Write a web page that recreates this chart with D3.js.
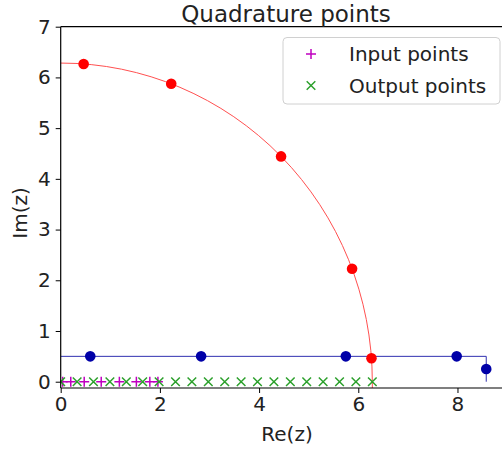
<!DOCTYPE html>
<html><head><meta charset="utf-8">
<script src="https://cdn.jsdelivr.net/npm/d3@7"></script>
<style>body{margin:0;background:#fff}svg{display:block}text{font-family:"DejaVu Sans",sans-serif;fill:#222}</style>
</head><body>
<svg id="c" width="502" height="450"></svg>
<script>
const title = "Quadrature points";
const xTicks = [0, 2, 4, 6, 8];
const yTicks = [0, 1, 2, 3, 4, 5, 6, 7];
const arcRadius = 6.283;
const redPts = [[0.4625, 6.266], [2.228, 5.875], [4.443, 4.443], [5.875, 2.228], [6.266, 0.4625]];
const contour = [[0, 0.5], [8.58, 0.5], [8.58, 0]];
const bluePts = [[0.596, 0.5], [2.831, 0.5], [5.749, 0.5], [7.984, 0.5], [8.58, 0.25]];
const inputX = [0.040, 0.203, 0.474, 0.817, 1.183, 1.526, 1.797, 1.960];
const outputX = [0, 0.331, 0.661, 0.992, 1.323, 1.653, 1.984, 2.315, 2.645, 2.976, 3.307, 3.638, 3.968, 4.299, 4.630, 4.960, 5.291, 5.622, 5.952, 6.283];
const legendItems = ["Input points", "Output points"];

const L = 60.7, R = 510.3, T = 26.7, B = 388;
const x = d3.scaleLinear().domain([0, 9.065]).range([L, R]);
const y = d3.scaleLinear().domain([-0.124, 7]).range([B, T]);
const svg = d3.select("#c");

svg.append("defs").append("clipPath").attr("id", "clip")
  .append("rect").attr("x", L).attr("y", T).attr("width", R - L).attr("height", B - T);
const g = svg.append("g").attr("clip-path", "url(#clip)");

// contour line
g.append("path").datum(contour)
  .attr("d", d3.line().x(d => x(d[0])).y(d => y(d[1])))
  .attr("fill", "none").attr("stroke", "#3030b0").attr("stroke-width", 1);
// arc
const rx = x(arcRadius) - x(0), ry = y(0) - y(arcRadius);
g.append("path")
  .attr("d", `M${x(arcRadius)},${y(0) + 8} L${x(arcRadius)},${y(0)} A${rx},${ry} 0 0 0 ${x(0)},${y(arcRadius)}`)
  .attr("fill", "none").attr("stroke", "#ff5050").attr("stroke-width", 1);
// blue points
g.selectAll(".bp").data(bluePts).join("circle")
  .attr("cx", d => x(d[0])).attr("cy", d => y(d[1])).attr("r", 5.3).attr("fill", "#0000a8");
// red points
g.selectAll(".rp").data(redPts).join("circle")
  .attr("cx", d => x(d[0])).attr("cy", d => y(d[1])).attr("r", 5.3).attr("fill", "#ff0000");

const s = 5;
function plus(sel, cx, cy, col) {
  sel.append("path").attr("d", `M${cx - s},${cy}H${cx + s}M${cx},${cy - s}V${cy + s}`)
    .attr("stroke", col).attr("stroke-width", 1.5).attr("fill", "none");
}
function cross(sel, cx, cy, col) {
  const k = 4.3;
  sel.append("path").attr("d", `M${cx - k},${cy - k}L${cx + k},${cy + k}M${cx - k},${cy + k}L${cx + k},${cy - k}`)
    .attr("stroke", col).attr("stroke-width", 1.5).attr("fill", "none");
}
const magenta = "#c000c0", green = "#2ca02c";
inputX.forEach(v => plus(g, x(v), y(0), magenta));
outputX.forEach(v => cross(g, x(v), y(0), green));

// spines
svg.append("line").attr("x1", L).attr("x2", 502).attr("y1", T).attr("y2", T).attr("stroke", "#000").attr("stroke-width", 1.2);
svg.append("line").attr("x1", L).attr("x2", 502).attr("y1", B).attr("y2", B).attr("stroke", "#000").attr("stroke-width", 1.2);
svg.append("line").attr("x1", L).attr("x2", L).attr("y1", T).attr("y2", B).attr("stroke", "#000").attr("stroke-width", 1.2);

// axes
const xa = svg.append("g").attr("transform", `translate(0,${B})`)
  .call(d3.axisBottom(x).tickValues(xTicks).tickSize(5).tickPadding(4).tickFormat(d3.format("d")));
const ya = svg.append("g").attr("transform", `translate(${L},0)`)
  .call(d3.axisLeft(y).tickValues(yTicks).tickSize(5).tickPadding(5).tickFormat(d3.format("d")));
[xa, ya].forEach(a => {
  a.select(".domain").remove();
  a.selectAll("line").attr("stroke", "#000").attr("stroke-width", 1);
  a.selectAll("text").attr("font-size", 20).attr("font-family", "DejaVu Sans").attr("fill", "#222");
});

svg.append("text").attr("x", 286).attr("y", 21.5).attr("text-anchor", "middle").attr("font-size", 23).text(title);
svg.append("text").attr("x", 287).attr("y", 441).attr("text-anchor", "middle").attr("font-size", 20).text("Re(z)");
svg.append("text").attr("transform", "translate(27,213) rotate(-90)").attr("text-anchor", "middle").attr("font-size", 20).text("Im(z)");

// legend
const lg = svg.append("g");
lg.append("rect").attr("x", 283).attr("y", 37.5).attr("width", 217).attr("height", 66.5).attr("rx", 4)
  .attr("fill", "#fff").attr("fill-opacity", 0.8).attr("stroke", "#d0d0d0").attr("stroke-width", 1);
legendItems.forEach((t, i) => {
  const cy = 54 + i * 31.5;
  if (i === 0) plus(lg, 311, cy, magenta); else cross(lg, 311, cy, green);
  lg.append("text").attr("x", 349).attr("y", cy + 7).attr("font-size", 20).text(t);
});
</script>
</body></html>
